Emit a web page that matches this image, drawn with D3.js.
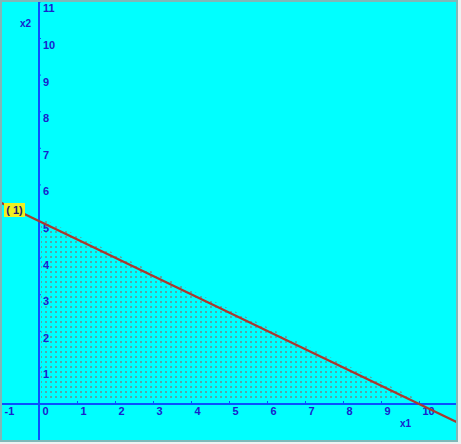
<!DOCTYPE html>
<html><head><meta charset="utf-8">
<script src="https://cdn.jsdelivr.net/npm/d3@7"></script>
<style>
html,body{margin:0;padding:0;background:#eef2f2;}
svg{display:block;}
text{font-family:Arial,"Liberation Sans",sans-serif;font-weight:bold;}
</style></head>
<body>
<script>
// data
const xTicks = [-1,0,1,2,3,4,5,6,7,8,9,10];
const yTicks = [1,2,3,4,5,6,7,8,9,10,11];
const constraintLine = [[-1,5.5],[11,-0.5]];   // x1 + 2*x2 = 10
const feasibleRegion = [[0,0],[0,5],[10,0]];
const constraintLabel = "( 1)";
const xAxisLabel = "x1", yAxisLabel = "x2";

const W = 461, H = 444;
const svg = d3.select("body").append("svg").attr("width", W).attr("height", H);

const x = d3.scaleLinear().domain([0,10]).range([39,419]);
const y = d3.scaleLinear().domain([0,10]).range([404,38]);

// frame
svg.append("rect").attr("x",1).attr("y",1).attr("width",456).attr("height",440)
  .attr("fill","#00ffff").attr("stroke","#7fb8b8").attr("stroke-width",2);

const clip = svg.append("clipPath").attr("id","cp");
clip.append("rect").attr("x",2).attr("y",2).attr("width",454).attr("height",438);
const g = svg.append("g").attr("clip-path","url(#cp)");

// pattern
const defs = svg.append("defs");
const pat = defs.append("pattern").attr("id","dots").attr("patternUnits","userSpaceOnUse")
  .attr("width",5).attr("height",5).attr("x",43).attr("y",399);
pat.append("rect").attr("x",0).attr("y",0).attr("width",2).attr("height",2).attr("fill","#55a8a8");

g.append("path")
  .attr("d", d3.line().x(d=>x(d[0])).y(d=>y(d[1]))(feasibleRegion) + "Z")
  .attr("transform","translate(2,-3)")
  .attr("fill","url(#dots)");

const axisColor = "#0a50ff", textColor = "#1a22cc";
const fmt = d => String(d);

// x axis
const xa = g.append("g").attr("transform",`translate(0,${y(0)})`)
  .call(d3.axisBottom(x).tickValues(xTicks).tickSize(3).tickSizeOuter(0).tickFormat(fmt));
xa.select(".domain").remove();
xa.selectAll(".tick line").attr("stroke",axisColor).attr("y1",-3).attr("y2",0);
xa.selectAll(".tick text").attr("text-anchor","start").attr("dx",3).attr("y",3).attr("dy","0.71em")
  .attr("fill",textColor).attr("font-size",11);
g.append("line").attr("x1",0).attr("x2",W).attr("y1",y(0)).attr("y2",y(0))
  .attr("stroke",axisColor).attr("stroke-width",2);

// y axis
const ya = g.append("g").attr("transform",`translate(${x(0)},0)`)
  .call(d3.axisRight(y).tickValues(yTicks).tickSize(2).tickSizeOuter(0).tickFormat(fmt));
ya.select(".domain").remove();
ya.selectAll(".tick line").attr("stroke",axisColor);
ya.selectAll(".tick text").attr("x",4).attr("dy","0.95em")
  .attr("fill",textColor).attr("font-size",11);
g.append("line").attr("x1",x(0)).attr("x2",x(0)).attr("y1",0).attr("y2",H)
  .attr("stroke",axisColor).attr("stroke-width",2);

// constraint line
g.append("path").attr("d", d3.line().x(d=>x(d[0])).y(d=>y(d[1]))(constraintLine))
  .attr("stroke","#a83a30").attr("stroke-width",2.2).attr("fill","none");

// constraint label
const lb = g.append("g");
lb.append("rect").attr("x",4).attr("y",203).attr("width",21).attr("height",14).attr("fill","#f0f020");
lb.append("text").attr("x",14.5).attr("y",214).attr("text-anchor","middle")
  .attr("font-size",11).attr("fill","#202070").text(constraintLabel);

// axis labels
g.append("text").attr("x",20).attr("y",27).attr("font-size",10).attr("fill",textColor).text(yAxisLabel);
g.append("text").attr("x",400).attr("y",427).attr("font-size",10).attr("fill",textColor).text(xAxisLabel);
</script>
</body></html>
